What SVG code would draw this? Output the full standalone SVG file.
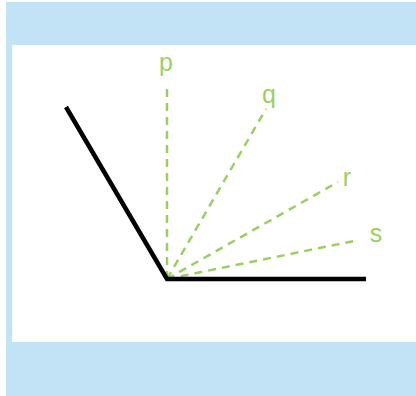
<svg xmlns="http://www.w3.org/2000/svg" width="416" height="396" viewBox="0 0 416 396">
<style>
.ray{stroke:#9ccf63;stroke-width:2.5;stroke-dasharray:8 6;fill:none}
.arm{stroke:#000;stroke-width:4.5;fill:none}
.lbl{font-family:"Liberation Sans",Arial,sans-serif;font-size:25px;fill:#9ccf63;text-anchor:middle}
</style>
<rect x="0" y="0" width="416" height="396" fill="#fff"/>
<rect x="6" y="2" width="410" height="394" fill="#c1e3f5"/>
<rect x="12" y="45" width="404" height="297" fill="#fff"/>
<g id="connectors">
<line class="ray" x1="167" y1="279" x2="167" y2="83"/>
<line class="ray" x1="167" y1="279" x2="266" y2="109"/>
<line class="ray" x1="167" y1="279" x2="338" y2="182"/>
<line class="ray" x1="167" y1="279" x2="359" y2="240"/>
<polyline class="arm" points="66,107 167,279 366,279"/>
</g>
<g id="p"><text class="lbl" x="166" y="71">p</text></g>
<g id="q"><text class="lbl" x="269" y="103">q</text></g>
<g id="r"><text class="lbl" x="347" y="186">r</text></g>
<g id="s"><text class="lbl" x="376" y="242">s</text></g>
</svg>
